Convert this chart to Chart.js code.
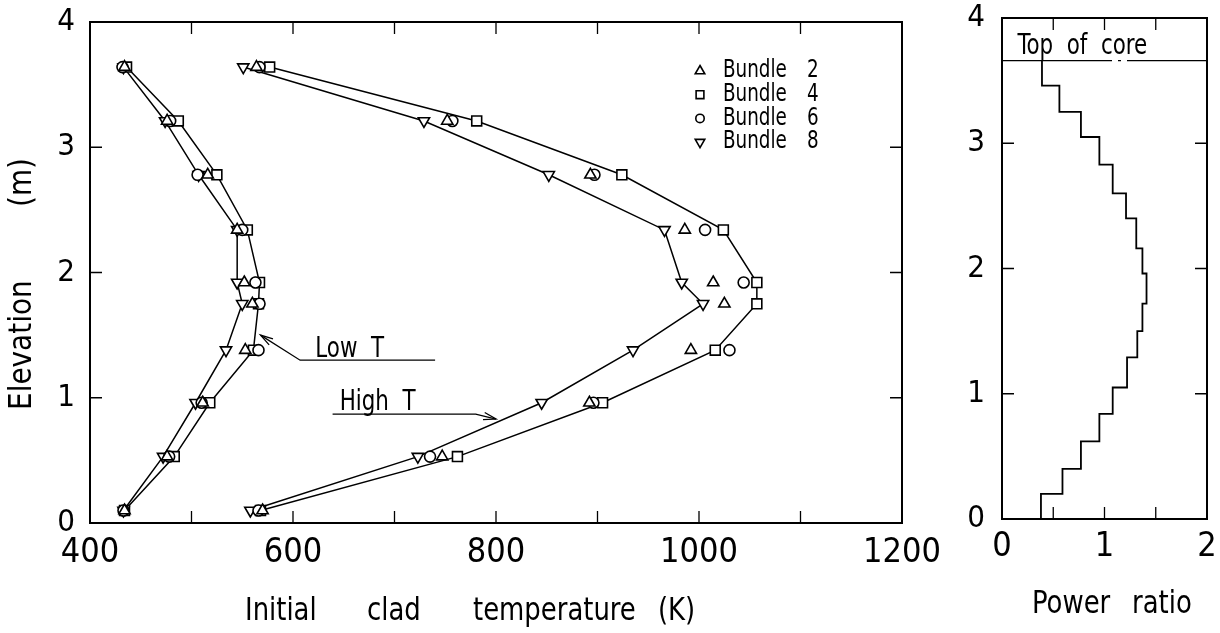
<!DOCTYPE html>
<html>
<head>
<meta charset="utf-8">
<title>Clad temperature and power profiles</title>
<script src="https://cdn.jsdelivr.net/npm/chart.js@4.4.0/dist/chart.umd.min.js"></script>
<style>
  html, body { margin: 0; padding: 0; background: #fff; overflow: hidden; }
  #wrap { position: relative; width: 1220px; height: 633px; overflow: hidden; }
  #tempBox { position: absolute; left: 0; top: -20px; width: 980px; height: 653px; }
  #powerBox { position: absolute; left: 940px; top: -20px; width: 300px; height: 653px; }
</style>
</head>
<body>
<div id="wrap">
  <div id="tempBox"><canvas id="tempChart"></canvas></div>
  <div id="powerBox"><canvas id="powerChart"></canvas></div>
</div>
<script>
// Measurement elevations (m), shared by every bundle
const elevations = [0.10, 0.53, 0.96, 1.38, 1.75, 1.92, 2.34, 2.78, 3.21, 3.64];

// Initial clad temperature (K), low temperature runs
const bundle2Low = [434, 476, 511, 553, 560, 552, 545, 516, 476, 434];
const bundle4Low = [434, 483, 518, 561, 566, 567, 555, 525, 487, 436];
const bundle6Low = [433, 478, 510, 566, 567, 563, 550, 506, 479, 432];
const bundle8Low = [433, 472, 504, 534, 550, 545, 545, 507, 474, 433];

// Initial clad temperature (K), high temperature runs
const bundle2High = [570, 747, 892, 992, 1025, 1014, 986, 893, 752, 564];
const bundle4High = [568, 762, 905, 1016, 1057, 1057, 1024, 924, 781, 577];
const bundle6High = [566, 735, 896, 1030, null, 1044, 1006, 897, 757, 567];
const bundle8High = [558, 723, 845, 935, 1004, 983, 966, 852, 729, 551];

// Axial power shape: segment boundaries (m) and power ratio of each segment
const segmentBounds = [0, 0.20, 0.40, 0.62, 0.84, 1.05, 1.29, 1.50, 1.72, 1.96,
                       2.16, 2.40, 2.60, 2.83, 3.05, 3.25, 3.46, 3.66];
const powerRatio = [0.38, 0.59, 0.77, 0.95, 1.08, 1.22, 1.32, 1.37, 1.41,
                    1.37, 1.31, 1.21, 1.08, 0.95, 0.77, 0.56, 0.39];
const coreTop = 3.66;

const bundleNumbers = ['2', '4', '6', '8'];

const FONT = "'Liberation Sans Narrow', 'DejaVu Sans Condensed', sans-serif";
Chart.defaults.font.family = FONT;
Chart.defaults.color = '#000';

function series(temps) {
    return elevations
        .map((e, i) => ({ x: temps[i], y: e }))
        .filter(p => p.x !== null);
}

const marker = {
    borderColor: '#000',
    borderWidth: 1.5,
    pointBorderColor: '#000',
    pointBackgroundColor: '#fff',
    pointBorderWidth: 1.6,
    pointHoverRadius: 0
};

const styles = {
    b2: { pointStyle: 'triangle', pointRadius: 6.5, pointRotation: 0 },
    b4: { pointStyle: 'rect', pointRadius: 7, pointRotation: 0 },
    b6: { pointStyle: 'circle', pointRadius: 5.5, pointRotation: 0 },
    b8: { pointStyle: 'triangle', pointRadius: 6.5, pointRotation: 180 }
};

// Box round the plot area plus inward tick marks on all four sides
const frameTicks = {
    id: 'frameTicks',
    beforeDatasetsDraw(chart, args, opts) {
        const { ctx, chartArea: a, scales: { x, y } } = chart;
        ctx.save();
        ctx.strokeStyle = '#000';
        ctx.lineWidth = 1.3;
        ctx.beginPath();
        x.ticks.forEach(t => {
            if (t.value <= x.min || t.value >= x.max) return;
            const px = x.getPixelForValue(t.value);
            ctx.moveTo(px, a.bottom); ctx.lineTo(px, a.bottom - opts.len);
            ctx.moveTo(px, a.top); ctx.lineTo(px, a.top + opts.len);
        });
        y.ticks.forEach(t => {
            if (t.value <= y.min || t.value >= y.max) return;
            const py = y.getPixelForValue(t.value);
            ctx.moveTo(a.left, py); ctx.lineTo(a.left + opts.len, py);
            ctx.moveTo(a.right, py); ctx.lineTo(a.right - opts.len, py);
        });
        ctx.stroke();
        ctx.lineWidth = 2;
        ctx.strokeRect(a.left, a.top, a.right - a.left, a.bottom - a.top);
        ctx.restore();
    }
};

// Narrowed text, drawn at (x, y) with an optional quarter turn
function narrowText(ctx, text, x, y, font, squeeze, vertical) {
    ctx.save();
    ctx.font = font;
    ctx.translate(x, y);
    if (vertical) ctx.rotate(-Math.PI / 2);
    ctx.scale(squeeze, 1);
    ctx.fillText(text, 0, 0);
    ctx.restore();
}

// Free text labels, optional leader line ending in an arrow
const notes = {
    id: 'notes',
    afterDatasetsDraw(chart, args, opts) {
        const { ctx, scales: { x, y } } = chart;
        ctx.save();
        ctx.strokeStyle = '#000';
        ctx.fillStyle = '#000';
        ctx.lineWidth = 1.3;
        ctx.textAlign = 'left';
        ctx.textBaseline = 'alphabetic';
        (opts.items || []).forEach(n => {
            narrowText(ctx, n.text, x.getPixelForValue(n.at[0]), y.getPixelForValue(n.at[1]),
                       n.font, 0.85, false);
            if (!n.leader) return;
            const pts = n.leader.map(p => [x.getPixelForValue(p[0]), y.getPixelForValue(p[1])]);
            ctx.beginPath();
            ctx.moveTo(pts[0][0], pts[0][1]);
            pts.slice(1).forEach(p => ctx.lineTo(p[0], p[1]));
            ctx.stroke();
            const [tx, ty] = pts[pts.length - 1];
            const [fx, fy] = pts[pts.length - 2];
            const ang = Math.atan2(ty - fy, tx - fx);
            ctx.beginPath();
            ctx.moveTo(tx - 13 * Math.cos(ang - 0.28), ty - 13 * Math.sin(ang - 0.28));
            ctx.lineTo(tx, ty);
            ctx.lineTo(tx - 13 * Math.cos(ang + 0.28), ty - 13 * Math.sin(ang + 0.28));
            ctx.stroke();
        });
        ctx.restore();
    }
};

// Axis captions drawn word by word below / beside the plot area
const captions = {
    id: 'captions',
    afterDraw(chart, args, opts) {
        const { ctx, chartArea: a } = chart;
        ctx.save();
        ctx.fillStyle = '#000';
        ctx.textBaseline = 'middle';
        ctx.textAlign = 'left';
        (opts.items || []).forEach(c => {
            narrowText(ctx, c.text, a.left + c.dx, a.bottom + c.dy, c.font,
                       c.vertical ? 0.97 : 0.9, c.vertical);
        });
        ctx.restore();
    }
};

// Bundle legend inside the upper right of the plot
const bundleLegend = {
    id: 'bundleLegend',
    afterDraw(chart) {
        const { ctx, chartArea: a } = chart;
        const keys = ['b2', 'b4', 'b6', 'b8'];
        const radii = [5.5, 5.5, 4.2, 5.5];
        ctx.save();
        ctx.strokeStyle = '#000';
        ctx.lineWidth = 1.6;
        keys.forEach((k, i) => {
            const yy = a.top + 49 + i * 23.7;
            const st = styles[k];
            ctx.fillStyle = '#fff';
            Chart.helpers.drawPoint(ctx, {
                pointStyle: st.pointStyle, rotation: st.pointRotation,
                radius: radii[i], borderWidth: 1.6
            }, a.right - 202, yy);
            ctx.fillStyle = '#000';
            ctx.textBaseline = 'middle';
            ctx.textAlign = 'left';
            narrowText(ctx, 'Bundle', a.right - 179, yy, '24px ' + FONT, 0.85, false);
            narrowText(ctx, bundleNumbers[i], a.right - 95, yy, '24px ' + FONT, 0.85, false);
        });
        ctx.restore();
    }
};

const tempChart = new Chart(document.getElementById('tempChart'), {
    type: 'scatter',
    data: {
        datasets: [
            { label: 'Bundle 2', data: series(bundle2Low), showLine: false, ...marker, ...styles.b2 },
            { label: 'Bundle 2', data: series(bundle2High), showLine: false, ...marker, ...styles.b2 },
            { label: 'Bundle 6', data: series(bundle6Low), showLine: false, ...marker, ...styles.b6 },
            { label: 'Bundle 6', data: series(bundle6High), showLine: false, ...marker, ...styles.b6 },
            { label: 'Bundle 4', data: series(bundle4Low), showLine: true, ...marker, ...styles.b4 },
            { label: 'Bundle 4', data: series(bundle4High), showLine: true, ...marker, ...styles.b4 },
            { label: 'Bundle 8', data: series(bundle8Low), showLine: true, ...marker, ...styles.b8 },
            { label: 'Bundle 8', data: series(bundle8High), showLine: true, ...marker, ...styles.b8 }
        ]
    },
    options: {
        responsive: true,
        maintainAspectRatio: false,
        animation: false,
        layout: { padding: { top: 42, right: 78, left: 0, bottom: 0 } },
        plugins: {
            legend: { display: false },
            tooltip: { enabled: false },
            frameTicks: { len: 12 },
            notes: {
                items: [
                    { text: 'Low  T', font: '28px ' + FONT, at: [622, 1.325],
                      leader: [[740, 1.30], [607, 1.30], [568, 1.50]] },
                    { text: 'High  T', font: '28px ' + FONT, at: [646, 0.90],
                      leader: [[639, 0.87], [780, 0.87], [800, 0.83]] }
                ]
            },
            captions: {
                items: [
                    { text: 'Initial', font: '32px ' + FONT, dx: 155, dy: 89 },
                    { text: 'clad', font: '32px ' + FONT, dx: 277, dy: 89 },
                    { text: 'temperature', font: '32px ' + FONT, dx: 383, dy: 89 },
                    { text: '(K)', font: '32px ' + FONT, dx: 568, dy: 89 },
                    { text: 'Elevation', font: '32px ' + FONT, dx: -67, dy: -113, vertical: true },
                    { text: '(m)', font: '32px ' + FONT, dx: -67, dy: -316, vertical: true }
                ]
            }
        },
        scales: {
            x: {
                type: 'linear',
                min: 400,
                max: 1200,
                afterFit(scale) { scale.height = 110; },
                grid: { display: false, drawTicks: false },
                border: { display: false },
                ticks: {
                    stepSize: 100,
                    autoSkip: false,
                    maxRotation: 0,
                    padding: 13,
                    color: '#000',
                    font: { size: 34, lineHeight: 1 },
                    callback: v => (v % 200 === 0 ? v : '')
                }
            },
            y: {
                type: 'linear',
                min: 0,
                max: 4,
                afterFit(scale) { scale.width = 90; },
                grid: { display: false, drawTicks: false },
                border: { display: false },
                ticks: {
                    stepSize: 1,
                    autoSkip: false,
                    padding: 15,
                    color: '#000',
                    font: { size: 31, lineHeight: 1 }
                }
            }
        }
    },
    plugins: [frameTicks, notes, captions, bundleLegend]
});

// Step outline of the axial power profile, corner by corner
const profilePoints = [];
powerRatio.forEach((p, i) => {
    profilePoints.push({ x: p, y: segmentBounds[i] });
    profilePoints.push({ x: p, y: segmentBounds[i + 1] });
});

const powerChart = new Chart(document.getElementById('powerChart'), {
    type: 'scatter',
    data: {
        datasets: [
            {
                label: 'Power ratio',
                data: profilePoints,
                showLine: true,
                borderColor: '#000',
                borderWidth: 1.8,
                pointRadius: 0,
                pointHoverRadius: 0
            },
            {
                label: 'Top of core',
                data: [{ x: 0, y: coreTop }, { x: 2, y: coreTop }],
                showLine: true,
                borderColor: '#000',
                borderWidth: 1.3,
                borderDash: [110, 6, 3, 6],
                pointRadius: 0,
                pointHoverRadius: 0
            }
        ]
    },
    options: {
        responsive: true,
        maintainAspectRatio: false,
        animation: false,
        layout: { padding: { top: 38, right: 33, left: 0, bottom: 0 } },
        plugins: {
            legend: { display: false },
            tooltip: { enabled: false },
            frameTicks: { len: 12 },
            notes: {
                items: [
                    { text: 'Top  of  core', font: '28px ' + FONT, at: [0.15, 3.71] }
                ]
            },
            captions: {
                items: [
                    { text: 'Power', font: '32px ' + FONT, dx: 30, dy: 86 },
                    { text: 'ratio', font: '32px ' + FONT, dx: 130, dy: 86 }
                ]
            }
        },
        scales: {
            x: {
                type: 'linear',
                min: 0,
                max: 2,
                afterFit(scale) { scale.height = 114; },
                grid: { display: false, drawTicks: false },
                border: { display: false },
                ticks: {
                    stepSize: 0.5,
                    autoSkip: false,
                    maxRotation: 0,
                    padding: 11,
                    color: '#000',
                    font: { size: 34, lineHeight: 1 },
                    callback: v => (Number.isInteger(v) ? v : '')
                }
            },
            y: {
                type: 'linear',
                min: 0,
                max: 4,
                afterFit(scale) { scale.width = 62; },
                grid: { display: false, drawTicks: false },
                border: { display: false },
                ticks: {
                    stepSize: 1,
                    autoSkip: false,
                    padding: 17,
                    color: '#000',
                    font: { size: 31, lineHeight: 1 }
                }
            }
        }
    },
    plugins: [frameTicks, notes, captions]
});
</script>
</body>
</html>
